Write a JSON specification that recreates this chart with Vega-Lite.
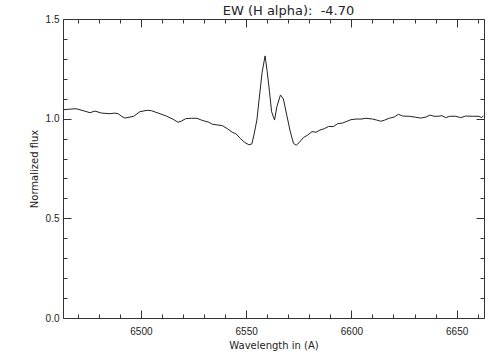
{
  "$schema": "https://vega.github.io/schema/vega-lite/v6.json",
  "width": 421,
  "height": 299,
  "autosize": {"type": "none"},
  "padding": {"left": 63, "top": 19, "right": 20, "bottom": 42},
  "title": {"text": "EW (H alpha):\u00a0 -4.70", "font": "DejaVu Sans", "fontSize": 13, "fontWeight": "normal", "color": "#222", "anchor": "middle", "dx": 15, "offset": -4},
  "data": {"values": [
    {"wl": 6463.1, "flux": 1.045}, {"wl": 6465.5, "flux": 1.047}, {"wl": 6469.2, "flux": 1.05}, {"wl": 6472.6, "flux": 1.04},
    {"wl": 6475.8, "flux": 1.03}, {"wl": 6478.2, "flux": 1.038}, {"wl": 6481.3, "flux": 1.028}, {"wl": 6485.3, "flux": 1.025},
    {"wl": 6487.6, "flux": 1.028}, {"wl": 6489.2, "flux": 1.025}, {"wl": 6490.8, "flux": 1.012}, {"wl": 6492.4, "flux": 1.003},
    {"wl": 6494.8, "flux": 1.008}, {"wl": 6496.6, "flux": 1.012}, {"wl": 6499.5, "flux": 1.035}, {"wl": 6503.0, "flux": 1.042},
    {"wl": 6505.0, "flux": 1.04}, {"wl": 6508.2, "flux": 1.028}, {"wl": 6512.1, "flux": 1.013}, {"wl": 6515.3, "flux": 0.997},
    {"wl": 6517.6, "flux": 0.982}, {"wl": 6519.3, "flux": 0.988}, {"wl": 6521.3, "flux": 1.0}, {"wl": 6524.0, "flux": 1.002},
    {"wl": 6526.6, "flux": 1.002}, {"wl": 6528.7, "flux": 0.993}, {"wl": 6530.3, "flux": 0.988}, {"wl": 6532.3, "flux": 0.982},
    {"wl": 6533.9, "flux": 0.972}, {"wl": 6536.6, "flux": 0.968}, {"wl": 6538.7, "flux": 0.965}, {"wl": 6541.3, "flux": 0.948},
    {"wl": 6543.4, "flux": 0.932}, {"wl": 6545.3, "flux": 0.923}, {"wl": 6547.2, "flux": 0.901}, {"wl": 6549.3, "flux": 0.881},
    {"wl": 6551.3, "flux": 0.869}, {"wl": 6552.7, "flux": 0.873}, {"wl": 6553.7, "flux": 0.918}, {"wl": 6555.1, "flux": 0.993},
    {"wl": 6556.4, "flux": 1.119}, {"wl": 6557.6, "flux": 1.233}, {"wl": 6559.0, "flux": 1.315}, {"wl": 6560.0, "flux": 1.236},
    {"wl": 6561.1, "flux": 1.135}, {"wl": 6562.1, "flux": 1.035}, {"wl": 6563.5, "flux": 0.993}, {"wl": 6564.6, "flux": 1.06},
    {"wl": 6566.3, "flux": 1.119}, {"wl": 6567.7, "flux": 1.099}, {"wl": 6569.3, "flux": 1.018}, {"wl": 6570.9, "flux": 0.938},
    {"wl": 6572.5, "flux": 0.876}, {"wl": 6573.8, "flux": 0.867}, {"wl": 6575.3, "flux": 0.881}, {"wl": 6577.2, "flux": 0.905},
    {"wl": 6579.3, "flux": 0.918}, {"wl": 6581.3, "flux": 0.935}, {"wl": 6583.2, "flux": 0.932}, {"wl": 6585.1, "flux": 0.943},
    {"wl": 6587.2, "flux": 0.95}, {"wl": 6589.2, "flux": 0.961}, {"wl": 6591.4, "flux": 0.96}, {"wl": 6593.5, "flux": 0.975},
    {"wl": 6595.8, "flux": 0.978}, {"wl": 6597.5, "flux": 0.985}, {"wl": 6599.8, "flux": 0.995}, {"wl": 6602.2, "flux": 0.998},
    {"wl": 6604.6, "flux": 0.998}, {"wl": 6606.9, "flux": 1.002}, {"wl": 6610.1, "flux": 0.998}, {"wl": 6612.0, "flux": 0.993},
    {"wl": 6614.0, "flux": 0.987}, {"wl": 6615.6, "flux": 0.992}, {"wl": 6618.0, "flux": 1.002}, {"wl": 6620.3, "flux": 1.008},
    {"wl": 6622.4, "flux": 1.022}, {"wl": 6624.3, "flux": 1.013}, {"wl": 6627.5, "flux": 1.012}, {"wl": 6630.6, "flux": 1.007},
    {"wl": 6633.0, "flux": 1.003}, {"wl": 6635.4, "flux": 1.008}, {"wl": 6637.3, "flux": 1.018}, {"wl": 6639.3, "flux": 1.012},
    {"wl": 6641.3, "flux": 1.012}, {"wl": 6643.0, "flux": 1.015}, {"wl": 6644.8, "flux": 1.005}, {"wl": 6646.7, "flux": 1.012},
    {"wl": 6649.6, "flux": 1.012}, {"wl": 6651.9, "flux": 1.005}, {"wl": 6654.3, "flux": 1.013}, {"wl": 6657.4, "flux": 1.012},
    {"wl": 6660.6, "flux": 1.012}, {"wl": 6661.9, "flux": 1.005}, {"wl": 6662.7, "flux": 1.015}
  ]},
  "config": {
    "view": {"stroke": null},
    "axis": {
      "grid": false,
      "domainColor": "#333",
      "tickColor": "#333",
      "labelColor": "#222",
      "titleColor": "#222",
      "labelFont": "Liberation Sans",
      "titleFont": "DejaVu Sans",
      "labelFontSize": 10,
      "titleFontSize": 10,
      "titleFontWeight": "normal",
      "labelOverlap": false,
      "labelFlush": false
    }
  },
  "layer": [
    {
      "mark": {"type": "line", "color": "#222", "strokeWidth": 1, "clip": true},
      "encoding": {
        "x": {"field": "wl", "type": "quantitative",
          "scale": {"domain": [6463, 6663], "nice": false, "zero": false},
          "axis": {"orient": "bottom", "title": "Wavelength in (A)", "format": "d",
            "values": [6470, 6480, 6490, 6500, 6510, 6520, 6530, 6540, 6550, 6560, 6570, 6580, 6590, 6600, 6610, 6620, 6630, 6640, 6650, 6660],
            "labelExpr": "datum.value % 50 === 0 ? datum.label : ''",
            "tickSize": {"condition": {"test": "datum.value % 50 === 0", "value": -8}, "value": -4},
            "labelPadding": 16, "titlePadding": 0}},
        "y": {"field": "flux", "type": "quantitative",
          "scale": {"domain": [0, 1.5], "nice": false, "zero": false},
          "axis": {"orient": "left", "title": "Normalized flux", "format": ".1f",
            "values": [0, 0.1, 0.2, 0.3, 0.4, 0.5, 0.6, 0.7, 0.8, 0.9, 1.0, 1.1, 1.2, 1.3, 1.4, 1.5],
            "labelExpr": "abs(round(datum.value * 10)) % 5 === 0 ? datum.label : ''",
            "tickSize": {"condition": {"test": "abs(round(datum.value * 10)) % 5 === 0", "value": -8}, "value": -4},
            "labelPadding": 12, "titlePadding": 6}}
      }
    },
    {
      "mark": {"type": "line", "strokeOpacity": 0, "clip": true},
      "encoding": {
        "x": {"field": "wl", "type": "quantitative",
          "scale": {"domain": [6463, 6663], "nice": false, "zero": false},
          "axis": {"orient": "top", "title": null, "labels": false,
            "values": [6470, 6480, 6490, 6500, 6510, 6520, 6530, 6540, 6550, 6560, 6570, 6580, 6590, 6600, 6610, 6620, 6630, 6640, 6650, 6660],
            "tickSize": {"condition": {"test": "datum.value % 50 === 0", "value": -8}, "value": -4}}},
        "y": {"field": "flux", "type": "quantitative",
          "scale": {"domain": [0, 1.5], "nice": false, "zero": false},
          "axis": {"orient": "right", "title": null, "labels": false,
            "values": [0, 0.1, 0.2, 0.3, 0.4, 0.5, 0.6, 0.7, 0.8, 0.9, 1.0, 1.1, 1.2, 1.3, 1.4, 1.5],
            "tickSize": {"condition": {"test": "abs(round(datum.value * 10)) % 5 === 0", "value": -8}, "value": -4}}}
      }
    }
  ],
  "resolve": {"axis": {"x": "independent", "y": "independent"}}
}
